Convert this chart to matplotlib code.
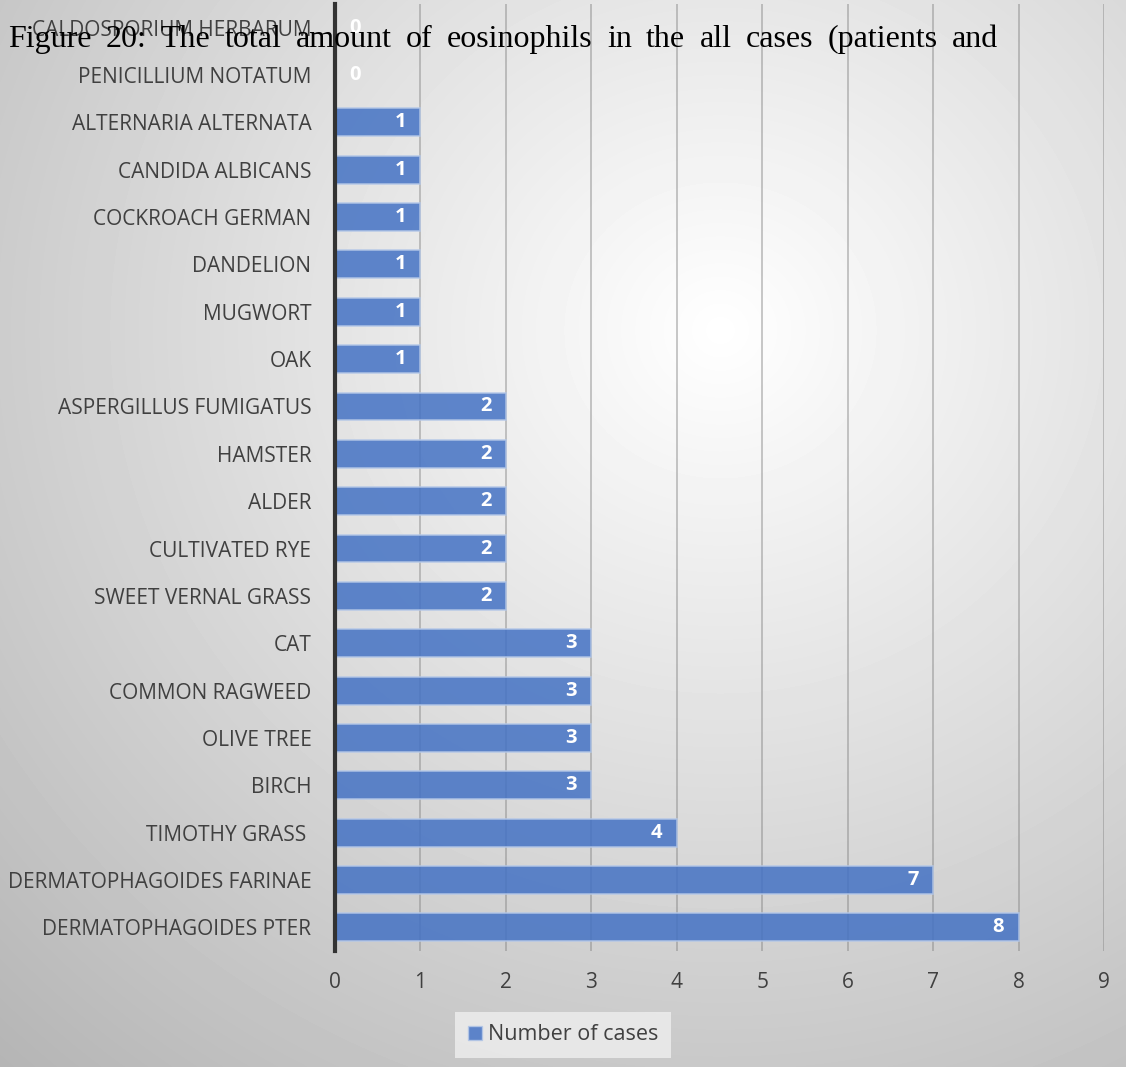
import numpy as np
import matplotlib
matplotlib.use("Agg")
import matplotlib.pyplot as plt
from matplotlib.patches import Patch

categories = [
    "CALDOSPORIUM HERBARUM", "PENICILLIUM NOTATUM", "ALTERNARIA ALTERNATA",
    "CANDIDA ALBICANS", "COCKROACH GERMAN", "DANDELION", "MUGWORT", "OAK",
    "ASPERGILLUS FUMIGATUS", "HAMSTER", "ALDER", "CULTIVATED RYE",
    "SWEET VERNAL GRASS", "CAT", "COMMON RAGWEED", "OLIVE TREE", "BIRCH",
    "TIMOTHY GRASS ", "DERMATOPHAGOIDES FARINAE", "DERMATOPHAGOIDES PTER",
]
cases = [0, 0, 1, 1, 1, 1, 1, 1, 2, 2, 2, 2, 2, 3, 3, 3, 3, 4, 7, 8]
x_ticks = list(range(0, 10))
title = "Figure 20: The total amount of eosinophils in the all cases (patients and"
legend_label = "Number of cases"

W, H = 1126, 1067
fig = plt.figure(figsize=(W / 100, H / 100), dpi=100)

# radial gradient background
bg = fig.add_axes([0, 0, 1, 1], zorder=-10)
yy, xx = np.mgrid[0:H, 0:W]
r = np.sqrt(((xx - 720) / W) ** 2 + ((yy - 330) / H) ** 2)
shade = np.clip(1.0 - 0.31 * r, 0, 1)
bg.imshow(shade, cmap="gray", vmin=0, vmax=1, aspect="auto", extent=[0, W, H, 0])
bg.axis("off")

n = len(categories)
ax = fig.add_axes([335 / W, (H - 951) / H, (1104 - 335) / W, (951 - 4) / H])
ax.patch.set_alpha(0)
ypos = np.arange(n)[::-1]
ax.set_ylim(-0.5, n - 0.5)
ax.set_xlim(0, 9)

ax.barh(ypos, cases, height=0.59, color="#4472C4", alpha=0.85,
        edgecolor="#b4c7e7", linewidth=1.2, zorder=3)
for y, v in zip(ypos, cases):
    ax.text(v - 0.17 if v > 0 else 0.17, y, str(v), ha="right" if v > 0 else "left",
            va="center", color="white", fontsize=14.5, fontweight="bold",
            family="Open Sans", zorder=4)

ax.set_yticks(ypos)
ax.set_yticklabels(categories, family="Open Sans", fontsize=15, color="#404040")
ax.set_xticks(x_ticks)
ax.set_xticklabels([str(t) for t in x_ticks], family="Open Sans", fontsize=15, color="#404040")
ax.tick_params(axis="both", length=0)
ax.tick_params(axis="x", pad=15)
ax.tick_params(axis="y", pad=17)
ax.grid(axis="x", color="#7f7f7f", alpha=0.5, linewidth=1.2, zorder=1)
for s in ["top", "right", "bottom"]:
    ax.spines[s].set_visible(False)
ax.spines["left"].set_color("#333333")
ax.spines["left"].set_linewidth(3)
ax.spines["left"].set_zorder(5)

leg = fig.legend(handles=[Patch(facecolor="#4472C4", alpha=0.85, edgecolor="#b4c7e7")],
                 labels=[legend_label], loc="center", bbox_to_anchor=(563 / W, 1 - 1035 / H),
                 frameon=True, fancybox=False, handlelength=0.65, handleheight=0.65,
                 handletextpad=0.3, borderpad=0.6, borderaxespad=0,
                 prop={"family": "Open Sans", "size": 15.5})
leg.get_frame().set_facecolor("#efefef")
leg.get_frame().set_edgecolor("none")
for t in leg.get_texts():
    t.set_color("#404040")

# justified caption line drawn word by word between x=8 and x=998
renderer = fig.canvas.get_renderer()
words = title.split(" ")
texts = [fig.text(0, 1 - 47 / H, w, family="Liberation Serif", fontsize=23,
                  va="baseline", ha="left", color="black") for w in words]
widths = [t.get_window_extent(renderer).width for t in texts]
gap = (998 - 8 - sum(widths)) / (len(words) - 1)
x = 8.0
for t, w in zip(texts, widths):
    t.set_x(x / W)
    x += w + gap

fig.savefig("out.png", dpi=100)
